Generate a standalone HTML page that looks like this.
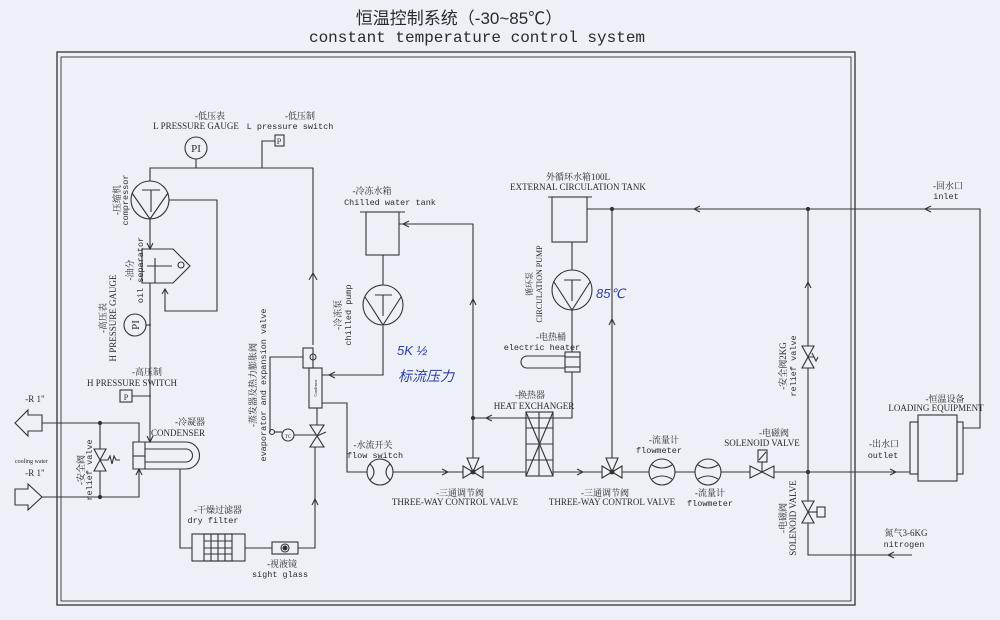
<!DOCTYPE html>
<html><head><meta charset="utf-8">
<style>
html,body{margin:0;padding:0;background:#eef0f7;}
svg{display:block;}
text{fill:#2a2a2a;font-family:"Liberation Serif","Noto Serif CJK SC",serif;font-size:9px;}
.m{font-family:"Liberation Mono","Noto Sans CJK SC",monospace;font-size:8.5px;}
.h{fill:#2b3fa0;font-family:"Liberation Sans",sans-serif;font-style:italic;}
</style></head><body>
<svg width="1000" height="620" viewBox="0 0 1000 620" xmlns="http://www.w3.org/2000/svg">
<rect width="1000" height="620" fill="#eef0f7"/>
<g fill="none" stroke="#333" stroke-width="1.1">
<rect x="57" y="52" width="798" height="553" stroke-width="1.3"/>
<rect x="61" y="57" width="790" height="544" stroke-width="0.9"/>
<polyline points="150,181 150,168 313,168 313,345"/>
<polyline points="309,280 313,273 317,280"/>
<line x1="196" y1="168" x2="196" y2="159"/>
<circle cx="196" cy="148" r="11"/>
<polyline points="262,168 262,141 275,141"/>
<rect x="275" y="135" width="9" height="11"/>
<circle cx="150" cy="200" r="19"/>
<polyline points="132,193 150,219 168,193"/>
<line x1="142" y1="190" x2="160" y2="190"/><line x1="151" y1="190" x2="151" y2="212"/>
<polyline points="169,200 217,200 217,311 165,311 165,290"/>
<polyline points="162,294 165,289 168,294"/>
<line x1="150" y1="219" x2="150" y2="249"/>
<polyline points="147,243 150,249 153,243"/>
<polygon points="142,249 173,249 190,266 173,283 142,283"/>
<line x1="147" y1="266" x2="172" y2="266"/><line x1="155" y1="258" x2="155" y2="283"/>
<circle cx="181" cy="265" r="3"/>
<line x1="150" y1="283" x2="150" y2="442"/>
<polyline points="147,436 150,442 153,436"/>
<line x1="151" y1="325" x2="146" y2="325"/>
<circle cx="135" cy="325" r="11"/>
<polyline points="151,396 132,396"/>
<rect x="120" y="390" width="12" height="12"/>
<path d="M145,442 H133 V469 H145 Z"/>
<line x1="133" y1="456" x2="145" y2="456"/>
<path d="M145,442 H186 A13.5,13.5 0 0 1 186,469 H145"/>
<path d="M145,449 H186 A6.5,6.5 0 0 1 186,462 H145"/>
<polyline points="42,423 139,423 139,442"/>
<polyline points="42,497 139,497 139,469"/>
<polyline points="136,475 139,469 142,475"/>
<polygon points="42,415 42,431 28,431 28,436 15,423 28,410 28,415"/>
<polygon points="15,489 15,505 28,505 28,510 42,497 28,484 28,489"/>
<line x1="100" y1="423" x2="100" y2="449"/><line x1="100" y1="471" x2="100" y2="497"/>
<polygon points="94,449 106,449 94,471 106,471"/>
<polyline points="100,460 108,460 110,456 112,464 114,456 116,460 120,460"/>
<circle cx="100" cy="423" r="1.6" fill="#333"/><circle cx="100" cy="497" r="1.6" fill="#333"/>
<polyline points="180,469 180,548 192,548"/>
<rect x="192" y="534" width="53" height="27"/>
<rect x="204" y="534" width="28" height="27"/>
<line x1="211" y1="534" x2="211" y2="561"/><line x1="218" y1="534" x2="218" y2="561"/><line x1="225" y1="534" x2="225" y2="561"/>
<line x1="204" y1="541" x2="232" y2="541"/><line x1="204" y1="548" x2="232" y2="548"/><line x1="204" y1="554" x2="232" y2="554"/>
<line x1="245" y1="548" x2="272" y2="548"/>
<rect x="272" y="542" width="26" height="12"/>
<circle cx="285" cy="548" r="4"/><circle cx="285" cy="548" r="2" fill="#333"/>
<polyline points="298,548 315,548 315,447"/>
<polyline points="312,505 315,499 318,505"/>
<polygon points="310,425 324,425 310,447 324,447"/>
<line x1="317" y1="436" x2="326" y2="432"/>
<line x1="317" y1="408" x2="317" y2="425"/>
<rect x="309" y="368" width="13" height="40"/>
<rect x="303" y="348" width="10" height="20"/>
<circle cx="313" cy="357" r="3"/>
<polyline points="303,357 270,357 270,432"/>
<circle cx="272" cy="432" r="2.5"/>
<line x1="274" y1="432" x2="282" y2="432"/>
<circle cx="288" cy="435" r="6"/>
<line x1="294" y1="435" x2="317" y2="435"/>
<polyline points="322,375 383,375 383,326"/>
<polyline points="335,372 329,375 335,378"/>
<circle cx="383" cy="305" r="20"/>
<polyline points="365,297 383,325 401,297"/>
<line x1="375" y1="295" x2="392" y2="295"/><line x1="383" y1="295" x2="383" y2="316"/>
<line x1="383" y1="255" x2="383" y2="285"/>
<rect x="366" y="212" width="33" height="43"/>
<line x1="360" y1="212" x2="405" y2="212"/>
<polyline points="322,403 347,403 347,472 367,472"/>
<circle cx="380" cy="472" r="13"/>
<path d="M370,464 Q378,472 370,480 M390,464 Q382,472 390,480"/>
<line x1="393" y1="472" x2="463" y2="472"/>
<polyline points="442,469 448,472 442,475"/>
<polygon points="463,466 463,478 483,466 483,478"/>
<polygon points="467,458 479,458 473,472"/>
<circle cx="473" cy="472" r="2" fill="#333"/>
<polyline points="473,458 473,224 399,224"/>
<polyline points="409,221 403,224 409,227"/>
<polyline points="470,305 473,299 476,305"/>
<polyline points="572,372 572,418 473,418"/>
<polyline points="492,415 486,418 492,421"/>
<circle cx="473" cy="418" r="1.6" fill="#333"/>
<line x1="483" y1="472" x2="526" y2="472"/>
<rect x="526" y="412" width="27" height="64"/>
<line x1="526" y1="428" x2="553" y2="428"/><line x1="526" y1="444" x2="553" y2="444"/><line x1="526" y1="460" x2="553" y2="460"/>
<line x1="539" y1="412" x2="539" y2="476"/>
<line x1="526" y1="412" x2="553" y2="476"/><line x1="553" y1="412" x2="526" y2="476"/>
<polyline points="553,472 602,472"/>
<polyline points="577,469 583,472 577,475"/>
<rect x="565" y="352" width="15" height="20"/>
<line x1="565" y1="357" x2="580" y2="357"/><line x1="565" y1="367" x2="580" y2="367"/>
<path d="M565,356 H527 A6,6 0 0 0 527,368 H565"/>
<line x1="572" y1="310" x2="572" y2="352"/>
<circle cx="572" cy="290" r="20"/>
<polyline points="554,282 572,310 590,282"/>
<line x1="564" y1="280" x2="581" y2="280"/><line x1="572" y1="280" x2="572" y2="301"/>
<line x1="572" y1="242" x2="572" y2="270"/>
<rect x="552" y="197" width="35" height="45"/>
<line x1="548" y1="197" x2="592" y2="197"/>
<polyline points="587,209 980,209 980,428 963,428"/>
<polyline points="700,206 694,209 700,212"/>
<polyline points="931,206 925,209 931,212"/>
<circle cx="612" cy="209" r="1.6" fill="#333"/><circle cx="808" cy="209" r="1.6" fill="#333"/>
<line x1="612" y1="209" x2="612" y2="458"/>
<polyline points="609,325 612,319 615,325"/>
<polygon points="602,466 602,478 622,466 622,478"/>
<polygon points="606,458 618,458 612,472"/>
<circle cx="612" cy="472" r="2" fill="#333"/>
<line x1="622" y1="472" x2="649" y2="472"/>
<circle cx="662" cy="472" r="13"/>
<path d="M652,465 Q662,471 672,465 M652,479 Q662,473 672,479"/>
<line x1="675" y1="472" x2="695" y2="472"/>
<circle cx="708" cy="472" r="13"/>
<path d="M698,465 Q708,471 718,465 M698,479 Q708,473 718,479"/>
<line x1="721" y1="472" x2="750" y2="472"/>
<polygon points="750,466 750,478 774,466 774,478"/>
<line x1="762" y1="472" x2="762" y2="462"/>
<rect x="758" y="450" width="9" height="12"/>
<line x1="759" y1="460" x2="766" y2="452"/>
<line x1="774" y1="472" x2="910" y2="472"/>
<polyline points="890,469 896,472 890,475"/>
<circle cx="808" cy="472" r="1.6" fill="#333"/>
<line x1="808" y1="209" x2="808" y2="346"/>
<polyline points="805,288 808,282 811,288"/>
<polygon points="802,346 814,346 802,368 814,368"/>
<polyline points="808,357 814,357 812,353 816,361 818,357"/>
<line x1="808" y1="368" x2="808" y2="501"/>
<polygon points="802,501 814,501 802,523 814,523"/>
<line x1="808" y1="512" x2="817" y2="512"/>
<rect x="817" y="507" width="8" height="10"/>
<polyline points="808,523 808,555 912,555"/>
<polyline points="894,552 888,555 894,558"/>
<rect x="918" y="415" width="39" height="66"/>
<rect x="910" y="422" width="8" height="52"/>
<rect x="957" y="422" width="6" height="52"/>
</g>
<text x="459" y="24" text-anchor="middle" style="font-size:17px;font-family:'Liberation Sans','Noto Sans CJK SC',sans-serif">恒温控制系统（-30~85℃）</text>
<text x="477" y="42" text-anchor="middle" class="m" style="font-size:16px">constant temperature control system</text>
<text x="210" y="119" text-anchor="middle">-低压表</text>
<text x="196" y="129" text-anchor="middle">L PRESSURE GAUGE</text>
<text x="196" y="152" text-anchor="middle" style="font-size:11px">PI</text>
<text x="300" y="119" text-anchor="middle">-低压制</text>
<text x="290" y="129" text-anchor="middle" class="m">L pressure switch</text>
<text x="279" y="144" text-anchor="middle" style="font-size:8px">P</text>
<text x="135" y="329" text-anchor="middle" style="font-size:11px" transform="rotate(-90 135 325)">PI</text>
<text x="126" y="400" text-anchor="middle" style="font-size:8px">P</text>
<text x="147" y="375" text-anchor="middle">-高压制</text>
<text x="132" y="386" text-anchor="middle">H PRESSURE SWITCH</text>
<text transform="translate(120,200) rotate(-90)" text-anchor="middle">-压缩机</text>
<text transform="translate(128,200) rotate(-90)" text-anchor="middle" class="m">compressor</text>
<text transform="translate(133,270) rotate(-90)" text-anchor="middle">-油分</text>
<text transform="translate(143,270) rotate(-90)" text-anchor="middle" class="m">oil separator</text>
<text transform="translate(106,318) rotate(-90)" text-anchor="middle">-高压表</text>
<text transform="translate(116,318) rotate(-90)" text-anchor="middle">H PRESSURE GAUGE</text>
<text x="190" y="425" text-anchor="middle">-冷凝器</text>
<text x="178" y="436" text-anchor="middle">CONDENSER</text>
<text x="35" y="402" text-anchor="middle">-R 1"</text>
<text x="15" y="463" style="font-size:6px">cooling water</text>
<text x="35" y="476" text-anchor="middle">-R 1"</text>
<text transform="translate(84,470) rotate(-90)" text-anchor="middle">-安全阀</text>
<text transform="translate(92,470) rotate(-90)" text-anchor="middle" class="m">relief valve</text>
<text x="218" y="513" text-anchor="middle">-干燥过滤器</text>
<text x="213" y="523" text-anchor="middle" class="m">dry filter</text>
<text x="282" y="567" text-anchor="middle">-视液镜</text>
<text x="280" y="577" text-anchor="middle" class="m">sight glass</text>
<text transform="translate(256,385) rotate(-90)" text-anchor="middle">-蒸发器及热力膨胀阀</text>
<text transform="translate(266,385) rotate(-90)" text-anchor="middle" class="m">evaporator and expansion valve</text>
<text x="288" y="438" text-anchor="middle" style="font-size:5px">TC</text>
<text transform="translate(317,388) rotate(-90)" text-anchor="middle" style="font-size:4px">Condenser</text>
<text x="372" y="194" text-anchor="middle">-冷冻水箱</text>
<text x="390" y="205" text-anchor="middle" class="m">Chilled water tank</text>
<text transform="translate(341,315) rotate(-90)" text-anchor="middle">-冷冻泵</text>
<text transform="translate(351,315) rotate(-90)" text-anchor="middle" class="m">chilled pump</text>
<text x="397" y="355" class="h" style="font-size:13px">5K ½</text>
<text x="398" y="381" class="h" style="font-size:14px">标流压力</text>
<text x="596" y="298" class="h" style="font-size:13px">85℃</text>
<text x="578" y="180" text-anchor="middle">外循环水箱100L</text>
<text x="578" y="190" text-anchor="middle">EXTERNAL CIRCULATION TANK</text>
<text transform="translate(532,284) rotate(-90)" text-anchor="middle" style="font-size:8px">循环泵</text>
<text transform="translate(542,284) rotate(-90)" text-anchor="middle" style="font-size:8px">CIRCULATION PUMP</text>
<text x="551" y="340" text-anchor="middle">-电热桶</text>
<text x="542" y="350" text-anchor="middle" class="m">electric heater</text>
<text x="530" y="398" text-anchor="middle">-换热器</text>
<text x="534" y="409" text-anchor="middle">HEAT EXCHANGER</text>
<text x="373" y="448" text-anchor="middle">-水流开关</text>
<text x="375" y="458" text-anchor="middle" class="m">flow switch</text>
<text x="460" y="496" text-anchor="middle">-三通调节阀</text>
<text x="455" y="505" text-anchor="middle">THREE-WAY CONTROL VALVE</text>
<text x="605" y="496" text-anchor="middle">-三通调节阀</text>
<text x="612" y="505" text-anchor="middle">THREE-WAY CONTROL VALVE</text>
<text x="664" y="443" text-anchor="middle">-流量计</text>
<text x="659" y="453" text-anchor="middle" class="m">flowmeter</text>
<text x="710" y="496" text-anchor="middle">-流量计</text>
<text x="710" y="506" text-anchor="middle" class="m">flowmeter</text>
<text x="774" y="436" text-anchor="middle">-电磁阀</text>
<text x="762" y="446" text-anchor="middle">SOLENOID VALVE</text>
<text transform="translate(786,518) rotate(-90)" text-anchor="middle">-电磁阀</text>
<text transform="translate(796,518) rotate(-90)" text-anchor="middle">SOLENOID VALVE</text>
<text transform="translate(786,366) rotate(-90)" text-anchor="middle">-安全阀2KG</text>
<text transform="translate(796,366) rotate(-90)" text-anchor="middle" class="m">relief valve</text>
<text x="948" y="189" text-anchor="middle">-回水口</text>
<text x="946" y="199" text-anchor="middle" class="m">inlet</text>
<text x="945" y="402" text-anchor="middle">-恒温设备</text>
<text x="936" y="411" text-anchor="middle">LOADING EQUIPMENT</text>
<text x="884" y="447" text-anchor="middle">-出水口</text>
<text x="883" y="458" text-anchor="middle" class="m">outlet</text>
<text x="906" y="536" text-anchor="middle">氮气3-6KG</text>
<text x="904" y="547" text-anchor="middle" class="m">nitrogen</text>
</svg>
</body></html>
